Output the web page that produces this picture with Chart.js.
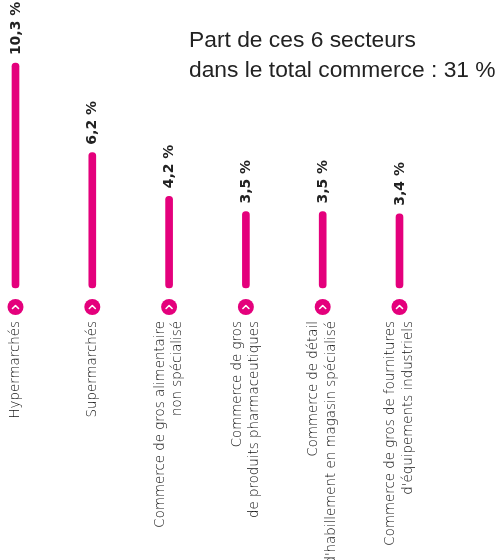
<!DOCTYPE html>
<html lang="fr">
<head>
<meta charset="utf-8">
<title>Part des secteurs dans le total commerce</title>
<script src="https://cdn.jsdelivr.net/npm/chart.js@4/dist/chart.umd.min.js"></script>
<style>
  html, body { margin: 0; padding: 0; background: #ffffff; }
  canvas { display: block; }
</style>
</head>
<body>
<canvas id="chart" width="499" height="560"></canvas>
<script>
// Secteurs (libellés sur une ou deux lignes)
const categories = [
  ["Hypermarchés"],
  ["Supermarchés"],
  ["Commerce de gros alimentaire", "non spécialisé"],
  ["Commerce de gros", "de produits pharmaceutiques"],
  ["Commerce de détail", "d'habillement en magasin spécialisé"],
  ["Commerce de gros de fournitures", "d'équipements industriels"]
];
// Part de chaque secteur (%)
const values = [10.3, 6.2, 4.2, 3.5, 3.5, 3.4];
const valueLabels = ["10,3 %", "6,2 %", "4,2 %", "3,5 %", "3,5 %", "3,4 %"];
const titleLines = ["Part de ces 6 secteurs", "dans le total commerce : 31 %"];

const PINK = "#E4007C";
const TEXT = "#222222";

// Étiquettes de valeur, pastilles à chevron et libellés pivotés
const decorations = {
  id: "decorations",
  afterDatasetsDraw(chart) {
    const ctx = chart.ctx;
    const meta = chart.getDatasetMeta(0);
    meta.data.forEach((bar, i) => {
      const { x, y, base } = bar.getProps(["x", "y", "base"], true);

      // valeur au-dessus de la barre
      ctx.save();
      ctx.translate(x, y - 8);
      ctx.rotate(-Math.PI / 2);
      ctx.font = "bold 14px 'DejaVu Sans'";
      ctx.fillStyle = TEXT;
      ctx.textAlign = "left";
      ctx.textBaseline = "middle";
      ctx.fillText(valueLabels[i], 0, 0.5);
      ctx.restore();

      // pastille avec chevron
      const cy = base + 19;
      ctx.save();
      ctx.beginPath();
      ctx.arc(x, cy, 8, 0, Math.PI * 2);
      ctx.fillStyle = PINK;
      ctx.fill();
      ctx.beginPath();
      ctx.moveTo(x - 3, cy + 1.5);
      ctx.lineTo(x, cy - 1.5);
      ctx.lineTo(x + 3, cy + 1.5);
      ctx.strokeStyle = "#ffffff";
      ctx.lineWidth = 1.6;
      ctx.lineCap = "round";
      ctx.lineJoin = "round";
      ctx.stroke();
      ctx.restore();

      // libellé du secteur
      const lines = chart.data.labels[i];
      const lh = 17.5;
      ctx.save();
      ctx.translate(x, base + 33);
      ctx.rotate(-Math.PI / 2);
      ctx.font = "200 13.4px 'DejaVu Sans'";
      ctx.fillStyle = "#111111";
      ctx.textAlign = "right";
      ctx.textBaseline = "middle";
      lines.forEach((line, k) => {
        const off = (k - (lines.length - 1) / 2) * lh;
        ctx.fillText(line, 0, off);
      });
      ctx.restore();
    });

    // titre
    ctx.save();
    ctx.font = "22.8px 'Liberation Sans'";
    ctx.fillStyle = TEXT;
    ctx.textAlign = "left";
    ctx.textBaseline = "alphabetic";
    titleLines.forEach((t, k) => ctx.fillText(t, 189, 47 + k * 30));
    ctx.restore();
  }
};

new Chart(document.getElementById("chart"), {
  type: "bar",
  data: {
    labels: categories,
    datasets: [{
      data: values,
      backgroundColor: PINK,
      barThickness: 7,
      borderRadius: 4,
      borderSkipped: false,
      clip: false
    }]
  },
  options: {
    responsive: false,
    devicePixelRatio: 1,
    animation: false,
    layout: { padding: { left: 15.5, right: 99.5, top: 26, bottom: 272 } },
    scales: {
      x: { display: false, offset: false },
      y: { display: false, min: 0, max: 12 }
    },
    plugins: {
      legend: { display: false },
      tooltip: { enabled: false },
      title: { display: false }
    }
  },
  plugins: [decorations]
});
</script>
</body>
</html>
